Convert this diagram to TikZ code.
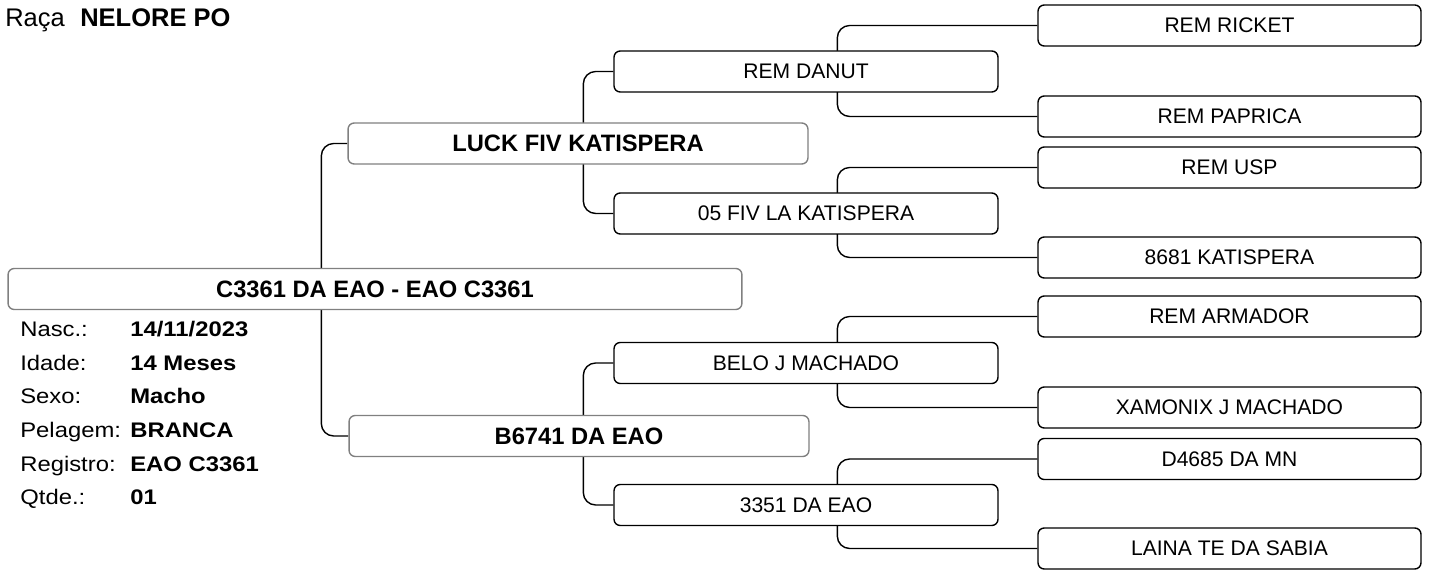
\documentclass[tikz,border=0pt]{standalone}
\usepackage{fontspec}
\setmainfont{Liberation Sans}
\newfontfamily\infofont[FakeStretch=1.13]{Liberation Sans}
\usetikzlibrary{backgrounds}
\definecolor{boxgray}{RGB}{128,128,128}

\begin{document}
\begin{tikzpicture}[x=0.02cm, y=-0.02cm,
  box/.style={draw, fill=white, line width=0.8pt, rounded corners=3.5pt, minimum height=0.82cm, inner sep=0pt},
  topbox/.style={box, draw=boxgray, font=\fontsize{13.5}{16}\selectfont\bfseries},
  sirebox/.style={box, minimum width=7.68cm, font=\fontsize{12}{14}\selectfont},
  link/.style={line width=0.8pt, rounded corners=7pt},
  info/.style={anchor=base west, inner sep=0pt, font=\infofont\fontsize{12}{14}\selectfont},
  infoval/.style={info, font=\infofont\fontsize{12}{14}\selectfont\bfseries}]
  \useasboundingbox (0,0) rectangle (1431,570);

  % Breed
  \node[anchor=base west, inner sep=0pt, font=\fontsize{14.5}{17}\selectfont] (raca) at (5,27) {Raça};
  \node[anchor=base west, inner sep=0pt, font=\fontsize{14.5}{17}\selectfont\bfseries] (racaval) at (80,27) {NELORE PO};

  % Animal
  \node[topbox, minimum width=14.68cm] (animal) at (375,289) {C3361 DA EAO - EAO C3361};

  % Data of the animal
  \node[info] (nasc) at (20,336.5) {Nasc.:};
  \node[infoval] (nascval) at (130,336.5) {14/11/2023};
  \node[info] (idade) at (20,370.2) {Idade:};
  \node[infoval] (idadeval) at (130,370.2) {14 Meses};
  \node[info] (sexo) at (20,403.9) {Sexo:};
  \node[infoval] (sexoval) at (130,403.9) {Macho};
  \node[info] (pelagem) at (20,437.6) {Pelagem:};
  \node[infoval] (pelagemval) at (130,437.6) {BRANCA};
  \node[info] (registro) at (20,471.3) {Registro:};
  \node[infoval] (registroval) at (130,471.3) {EAO C3361};
  \node[info] (qtde) at (20,505) {Qtde.:};
  \node[infoval] (qtdeval) at (130,505) {01};

  % Parents
  \node[topbox, minimum width=9.2cm] (pai) at (578,143.5) {LUCK FIV KATISPERA};
  \node[topbox, minimum width=9.2cm] (mae) at (579,436) {B6741 DA EAO};

  % Grandparents
  \node[sirebox] (avopp) at (806,71.5) {REM DANUT};
  \node[sirebox] (avopm) at (806,213.5) {05 FIV LA KATISPERA};
  \node[sirebox] (avomp) at (806,363) {BELO J MACHADO};
  \node[sirebox] (avomm) at (806,505) {3351 DA EAO};

  % Great-grandparents
  \node[sirebox, minimum width=7.66cm] (bisa1) at (1229.5,25.5) {REM RICKET};
  \node[sirebox, minimum width=7.66cm] (bisa2) at (1229.5,116.5) {REM PAPRICA};
  \node[sirebox, minimum width=7.66cm] (bisa3) at (1229.5,167.5) {REM USP};
  \node[sirebox, minimum width=7.66cm] (bisa4) at (1229.5,257.5) {8681 KATISPERA};
  \node[sirebox, minimum width=7.66cm] (bisa5) at (1229.5,316.5) {REM ARMADOR};
  \node[sirebox, minimum width=7.66cm] (bisa6) at (1229.5,407.5) {XAMONIX J MACHADO};
  \node[sirebox, minimum width=7.66cm] (bisa7) at (1229.5,459) {D4685 DA MN};
  \node[sirebox, minimum width=7.66cm] (bisa8) at (1229.5,548.5) {LAINA TE DA SABIA};

  % Links run behind the boxes
  \begin{pgfonlayer}{background}
    \draw[link] (pai.west) -- ++(-26,0) |- (mae.west);
    \draw[link] (avopp.west) -- ++(-30,0) |- (avopm.west);
    \draw[link] (avomp.west) -- ++(-30,0) |- (avomm.west);
    \draw[link] (bisa1.west) -- ++(-200,0) |- (bisa2.west);
    \draw[link] (bisa3.west) -- ++(-200,0) |- (bisa4.west);
    \draw[link] (bisa5.west) -- ++(-200,0) |- (bisa6.west);
    \draw[link] (bisa7.west) -- ++(-200,0) |- (bisa8.west);
  \end{pgfonlayer}
\end{tikzpicture}
\end{document}
